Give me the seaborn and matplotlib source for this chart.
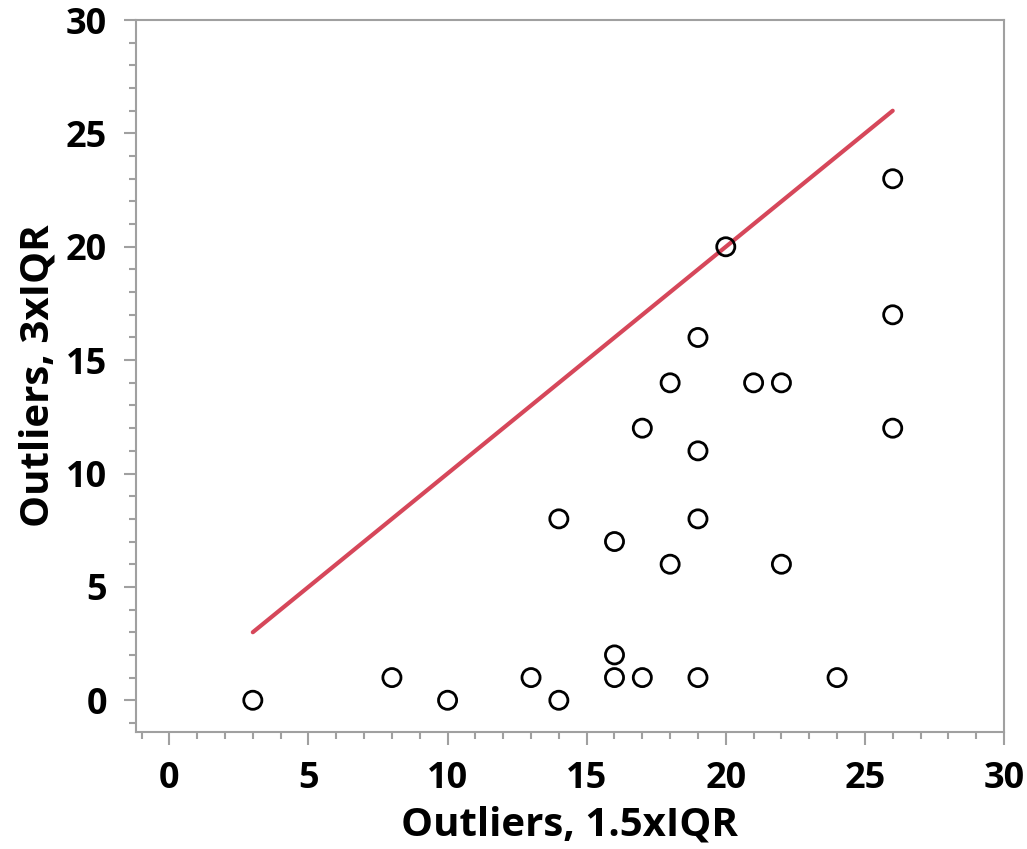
import seaborn as sns
import matplotlib.pyplot as plt
from matplotlib.ticker import MultipleLocator
import pandas as pd

x_outliers = [3, 8, 10, 13, 14, 14, 16, 16, 16, 17, 17, 18, 18, 19, 19, 19, 19, 20, 21, 22, 22, 24, 26, 26, 26]
y_outliers = [0, 1, 0, 1, 0, 8, 2, 1, 7, 1, 12, 14, 6, 16, 11, 8, 1, 20, 14, 14, 6, 1, 23, 17, 12]
line_x = [3, 26]
line_y = [3, 26]

df = pd.DataFrame({"x": x_outliers, "y": y_outliers})

sns.set_style("white")
plt.rcParams["font.family"] = ["Open Sans", "DejaVu Sans"]
plt.rcParams["text.color"] = "black"
plt.rcParams["axes.labelcolor"] = "black"
plt.rcParams["xtick.labelcolor"] = "black"
plt.rcParams["ytick.labelcolor"] = "black"

fig = plt.figure(figsize=(10.27, 8.49), dpi=100)
ax = fig.add_axes([0.1324, 0.1378, 0.8452, 0.8386])

sns.lineplot(x=line_x, y=line_y, color="#d6475a", linewidth=3, ax=ax)
sns.scatterplot(data=df, x="x", y="y", s=170, facecolor="none",
                edgecolor="black", linewidth=2, ax=ax, zorder=3)

ax.set_xlim(-1.2, 30)
ax.set_ylim(-1.4, 30)
ax.xaxis.set_major_locator(MultipleLocator(5))
ax.xaxis.set_minor_locator(MultipleLocator(1))
ax.yaxis.set_major_locator(MultipleLocator(5))
ax.yaxis.set_minor_locator(MultipleLocator(1))
ax.tick_params(which="major", length=9, width=1.5, color="#a0a0a0",
               labelsize=26, labelcolor="black", pad=12, bottom=True, left=True)
ax.tick_params(which="minor", length=5, width=1.5, color="#a0a0a0",
               bottom=True, left=True)
for lab in ax.get_xticklabels() + ax.get_yticklabels():
    lab.set_fontweight("bold")
for sp in ax.spines.values():
    sp.set_color("#a0a0a0")
    sp.set_linewidth(1.5)

ax.set_xlabel("Outliers, 1.5xIQR", fontsize=29, fontweight="bold", labelpad=6)
ax.set_ylabel("Outliers, 3xIQR", fontsize=29, fontweight="bold", labelpad=6)

plt.savefig("out.png", dpi=100)
